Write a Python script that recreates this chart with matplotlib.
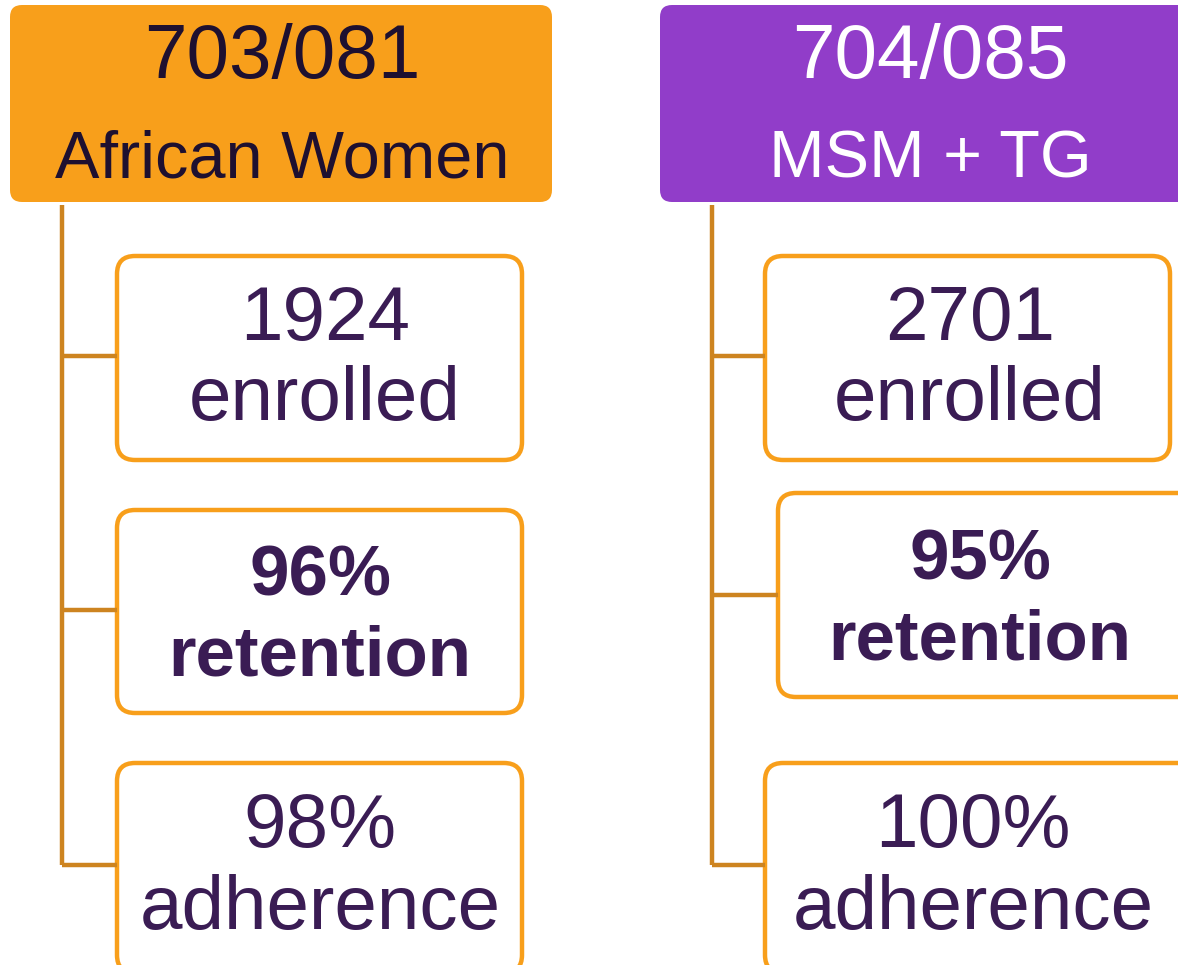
import matplotlib.pyplot as plt
from matplotlib.patches import FancyBboxPatch

plt.rcParams['font.family'] = ['Liberation Sans', 'DejaVu Sans']

# study headers
studies = ['703/081', '704/085']
populations = ['African Women', 'MSM + TG']

# figures per study
enrolled = ['1924', '2701']
retention = ['96%', '95%']
adherence = ['98%', '100%']
row_labels = ['enrolled', 'retention', 'adherence']

ORANGE = '#F89F1B'
PURPLE = '#913DC9'
LINE = '#CD8420'
TEXT = '#3A1C54'
DARK = '#1E1030'

fig = plt.figure(figsize=(11.78, 9.65), dpi=100)
ax = fig.add_axes([0, 0, 1, 1])
ax.set_xlim(0, 1178)
ax.set_ylim(965, 0)
ax.axis('off')

# layout (pixel coordinates, y down)
header_boxes = [(10, 5, 542, 197), (660, 5, 540, 197)]
header_fill = [ORANGE, PURPLE]
header_text = [DARK, 'white']
header_cx = [282, 930]
trunk_x = [62, 712]
branch_y = [[356, 610, 865], [356, 595, 865]]
child_boxes = [
    [(117, 256, 405, 204), (117, 510, 405, 203), (117, 763, 405, 210)],
    [(765, 256, 405, 204), (778, 493, 420, 204), (765, 763, 430, 210)],
]
text_cx = [[325, 320, 320], [970, 980, 973]]
baselines = [[(340, 420), (595, 676), (847, 929)],
             [(340, 420), (580, 660), (847, 929)]]

for i in range(2):
    x, y, w, h = header_boxes[i]
    ax.add_patch(FancyBboxPatch((x + 12, y + 12), w - 24, h - 24,
                                boxstyle='round,pad=12', fc=header_fill[i],
                                ec='none'))
    ax.text(header_cx[i], 78, studies[i], ha='center', va='baseline',
            fontsize=55, color=header_text[i])
    ax.text(header_cx[i], 177, populations[i], ha='center', va='baseline',
            fontsize=48, color=header_text[i])

    # tree connectors
    ax.plot([trunk_x[i], trunk_x[i]], [205, branch_y[i][-1]], color=LINE,
            lw=3.2, solid_capstyle='butt')
    for j in range(3):
        bx = child_boxes[i][j][0]
        ax.plot([trunk_x[i], bx], [branch_y[i][j]] * 2, color=LINE, lw=3.2,
                solid_capstyle='butt')

    values = [enrolled[i], retention[i], adherence[i]]
    for j in range(3):
        x, y, w, h = child_boxes[i][j]
        ax.add_patch(FancyBboxPatch((x + 18, y + 18), w - 36, h - 36,
                                    boxstyle='round,pad=18', fc='white',
                                    ec=ORANGE, lw=3.2))
        cx = text_cx[i][j]
        bold = j == 1
        fs = 51 if bold else 55
        weight = 'bold' if bold else 'normal'
        b1, b2 = baselines[i][j]
        ax.text(cx, b1, values[j], ha='center', va='baseline', fontsize=fs,
                color=TEXT, fontweight=weight)
        ax.text(cx, b2, row_labels[j], ha='center', va='baseline', fontsize=fs,
                color=TEXT, fontweight=weight)

fig.savefig('out.png', dpi=100)
